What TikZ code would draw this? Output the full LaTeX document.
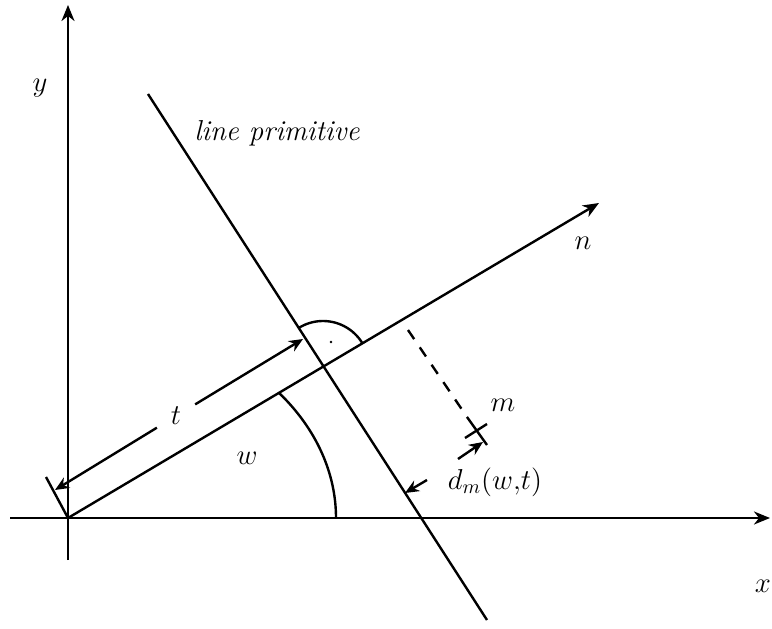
\documentclass[tikz,border=0pt]{standalone}
\usepackage{amsmath}
\usepackage{tikz}
\usetikzlibrary{arrows.meta,positioning}

\begin{document}
\begin{tikzpicture}[
  x=0.5pt, y=0.5pt,
  font=\Large,
  geo/.style={line width=1.2pt},
  axis/.style={geo, -{Stealth[length=8pt, width=6.5pt, inset=2.5pt]}},
  measure/.style={geo, -{Stealth[length=7pt, width=6pt, inset=2.3pt]}},
  lbl/.style={inner sep=1pt}
]
  \useasboundingbox (0,0) rectangle (772,628);
  % axes
  \coordinate (origin) at (68,110);
  \coordinate (xstart) at (10,110);
  \coordinate (xend) at (770,110);
  \coordinate (ystart) at (68,68);
  \coordinate (yend) at (68,623);
  \draw[axis] (xstart) -- (xend);
  \draw[axis] (ystart) -- (yend);
  \node[lbl] (xlabel) at (763,42) {$x$};
  \node[lbl] (ylabel) at (40,540) {$y$};
  % normal direction
  \coordinate (ntip) at (599,425);
  \coordinate (foot) at (323,261);
  \draw[axis] (origin) -- (ntip);
  \node[lbl] (nlabel) at (583,385) {$n$};
  % line primitive and right angle
  \coordinate (ltop) at (148,534);
  \coordinate (lbot) at (487,8);
  \draw[geo] (ltop) -- (lbot);
  \node[lbl] (lname) at (277,495) {\textit{line primitive}};
  \draw[geo] ([shift={(122.8:46)}]foot) arc[start angle=122.8, end angle=30.7, radius=46];
  \fill (331,286) circle (1.4);
  % angle w
  \coordinate (warc) at (336,110);
  \draw[geo] (warc) arc[start angle=0, end angle=38, x radius=268, y radius=203];
  \node[lbl] (wlabel) at (247,170) {$w$};
  % distance t
  \coordinate (tick) at (46,151);
  \draw[geo] (origin) -- (tick);
  \coordinate (tlow) at (55,138);
  \coordinate (tup) at (303,289);
  \node[circle, minimum size=22pt] (tlabel) at (176,212) {$t$};
  \draw[measure] (tlabel) -- (tlow);
  \draw[measure] (tlabel) -- (tup);
  % point m
  \coordinate (dtop) at (408,298);
  \coordinate (dmid) at (467,211);
  \coordinate (mpt) at (487,183);
  \coordinate (mtickl) at (465,190);
  \coordinate (mtickr) at (487,204);
  \draw[geo, dash pattern=on 5.5pt off 5pt] (dtop) -- (dmid);
  \draw[geo] (dmid) -- (mpt);
  \draw[geo] (mtickl) -- (mtickr);
  \node[lbl] (mlabel) at (503,223) {$m$};
  % distance d
  \coordinate (dfrom) at (458,169);
  \coordinate (dto) at (483,186);
  \coordinate (lfrom) at (427,148);
  \coordinate (lto) at (405,135);
  \draw[measure] (dfrom) -- (dto);
  \draw[measure] (lfrom) -- (lto);
  \node[lbl] (dlabel) at (495,146) {$d_m(w{,}t)$};
\end{tikzpicture}
\end{document}
